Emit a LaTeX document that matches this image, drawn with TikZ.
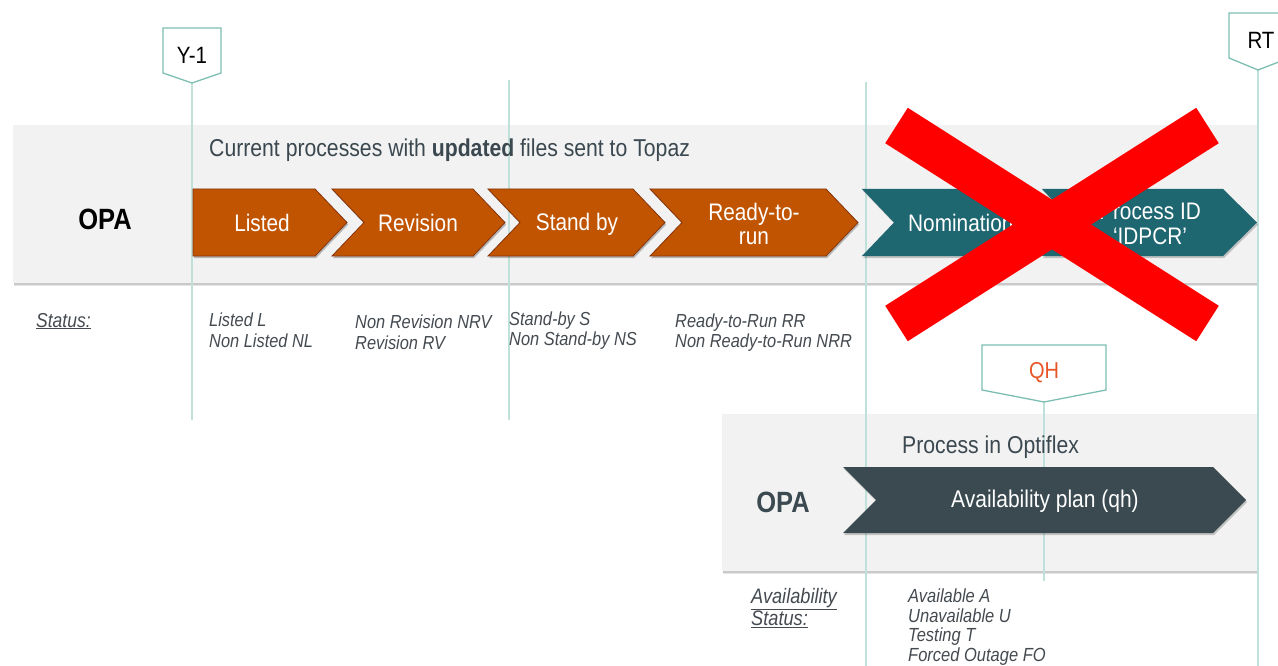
\documentclass[tikz,border=0pt]{standalone}
\usepackage{fontspec}
\setmainfont{Liberation Sans}
\usetikzlibrary{shadows}
\definecolor{panelc}{RGB}{242,242,242}
\definecolor{orangec}{RGB}{192,84,0}
\definecolor{orangeb}{RGB}{135,52,12}
\definecolor{tealc}{RGB}{30,102,112}
\definecolor{darkc}{RGB}{58,74,80}
\definecolor{markc}{RGB}{125,190,178}
\definecolor{vlinec}{RGB}{192,224,218}
\definecolor{txtc}{RGB}{59,72,80}
\definecolor{statc}{RGB}{68,74,80}
\definecolor{qhc}{RGB}{232,86,40}
\definecolor{xred}{RGB}{255,0,0}
\newcommand\vstr[1]{\scalebox{1}[1.15]{#1}}
\begin{document}
\begin{tikzpicture}[x=1pt,y=-1pt,
  panel/.style={fill=panelc,
    drop shadow={shadow xshift=0.5pt, shadow yshift=-1.5pt, opacity=0.12, fill=black},
    drop shadow={shadow xshift=0.8pt, shadow yshift=-3pt, opacity=0.10, fill=black}},
  vline/.style={draw=vlinec, line width=1.2pt},
  marker/.style={draw=markc, fill=white, line width=1.3pt, line join=miter},
  mtext/.style={inner sep=0pt, font=\fontsize{20.5}{24}\selectfont, text=black},
  orchev/.style={fill=orangec, draw=orangeb, line width=0.8pt, line join=miter,
    drop shadow={shadow xshift=1.2pt, shadow yshift=-2pt, opacity=0.25, fill=black}},
  tlchev/.style={fill=tealc, drop shadow={shadow xshift=1.2pt, shadow yshift=-2pt, opacity=0.2, fill=black}},
  dkchev/.style={fill=darkc, drop shadow={shadow xshift=1.2pt, shadow yshift=-2pt, opacity=0.2, fill=black}},
  ctext/.style={inner sep=0pt, align=center, text=white, font=\fontsize{20.8}{24.5}\selectfont},
  opa/.style={inner sep=0pt, font=\fontsize{25.5}{30}\selectfont\bfseries},
  head/.style={inner sep=0pt, anchor=west, text=txtc, font=\fontsize{21.2}{25}\selectfont},
  stat/.style={inner sep=0pt, anchor=west, align=left, text=statc, font=\fontsize{16.4}{20.5}\selectfont\itshape},
  slabel/.style={inner sep=0pt, anchor=west, align=left, text=statc, font=\fontsize{18.2}{22}\selectfont\itshape},
  xbar/.style={draw=xred, line width=42pt, line cap=butt}
]
\useasboundingbox (0,0) rectangle (1278,666);

% panels
\path[panel] (13,125) rectangle (1257,283);
\path[panel] (722,414) rectangle (1257,571);

% marker tips and line ends
\coordinate (y1tip) at (192,83);
\coordinate (y1end) at (192,420);
\coordinate (l2top) at (509,80);
\coordinate (l2end) at (509,420);
\coordinate (l3top) at (866,82);
\coordinate (l3end) at (866,666);
\coordinate (rttip) at (1258,70);
\coordinate (rtend) at (1258,666);
\coordinate (qhtip) at (1044,402);
\coordinate (qhend) at (1044,581);

% vertical timeline lines
\draw[vline] (y1tip) -- (y1end);
\draw[vline] (l2top) -- (l2end);
\draw[vline] (l3top) -- (l3end);
\draw[vline] (rttip) -- (rtend);
\draw[vline] (qhtip) -- (qhend);

% top row chevrons
\path[orchev] (193,189) -- (315,189) -- (347,222.5) -- (315,256) -- (193,256) -- cycle;
\path[orchev] (332,189) -- (473,189) -- (505,222.5) -- (473,256) -- (332,256) -- (364,222.5) -- cycle;
\path[orchev] (488,189) -- (633,189) -- (665,222.5) -- (633,256) -- (488,256) -- (520,222.5) -- cycle;
\path[orchev] (650,189) -- (826,189) -- (858,222.5) -- (826,256) -- (650,256) -- (682,222.5) -- cycle;
\path[tlchev] (862,189) -- (1027,189) -- (1059,222.5) -- (1027,256) -- (862,256) -- (894,222.5) -- cycle;
\path[tlchev] (1042,189) -- (1223,189) -- (1257,222.5) -- (1223,256) -- (1042,256) -- (1074,222.5) -- cycle;

\node[ctext] (listed) at (262,223) {\vstr{Listed}};
\node[ctext] (revision) at (418,223) {\vstr{Revision}};
\node[ctext] (standby) at (577,224) {\vstr{Stand by}};
\node[ctext] (ready) at (754,224) {\vstr{Ready-to-}\\\vstr{run}};
\node[ctext, anchor=west] (nomination) at (908,223) {\vstr{Nomination}};
\node[ctext] (processid) at (1150,224) {\vstr{Process ID}\\\vstr{‘IDPCR’}};

% top panel texts
\node[opa, text=black] (opatop) at (105,219) {\vstr{OPA}};
\node[head] (headtop) at (209,150) {\vstr{Current processes with \textbf{updated} files sent to Topaz}};

% status texts
\node[inner sep=0pt, anchor=base west, text=statc, font=\fontsize{17.5}{21}\selectfont\itshape] (status) at (36,327) {\underline{\vstr{Status:}}};
\node[stat] (st1) at (209,330.5) {\vstr{Listed L}\\\vstr{Non Listed NL}};
\node[stat] (st2) at (355,332.5) {\vstr{Non Revision NRV}\\\vstr{Revision RV}};
\node[stat] (st3) at (509,330.5) {\vstr{Stand-by S}\\\vstr{Non Stand-by NS}};
\node[stat] (st4) at (675,332.5) {\vstr{Ready-to-Run RR}\\\vstr{Non Ready-to-Run NRR}};

% red cross
\coordinate (xa) at (896.5,125.5);
\coordinate (xb) at (1207.5,323.5);
\coordinate (xc) at (1207.5,125.5);
\coordinate (xd) at (896.5,323.5);
\draw[xbar] (xa) -- (xb);
\draw[xbar] (xc) -- (xd);

% markers
\draw[marker] (163,28) -- (221,28) -- (221,73) -- (y1tip) -- (163,73) -- cycle;
\node[mtext] (y1) at (192,55.5) {\vstr{Y-1}};
\draw[marker] (1229,13) -- (1289,13) -- (1289,58) -- (rttip) -- (1229,58) -- cycle;
\node[mtext] (rt) at (1261,40) {\vstr{RT}};
\draw[marker] (982,345) -- (1106,345) -- (1106,390) -- (qhtip) -- (982,390) -- cycle;
\node[mtext, text=qhc, font=\fontsize{20}{24}\selectfont] (qh) at (1044,372.5) {\vstr{QH}};

% bottom panel
\node[head] (headbot) at (902,447) {\vstr{Process in Optiflex}};
\node[opa, text=darkc] (opabot) at (783,502) {\vstr{OPA}};
\path[dkchev] (843,467) -- (1213,467) -- (1246,500) -- (1213,533) -- (843,533) -- (876,500) -- cycle;
\node[ctext, font=\fontsize{21}{25}\selectfont] (avail) at (1045,501) {\vstr{Availability plan (qh)}};

% availability status
\node[slabel] (astat) at (751,608) {\underline{\vstr{Availability}}\\\underline{\vstr{Status:}}};
\node[stat, font=\fontsize{16.5}{19.8}\selectfont\itshape] (alist) at (908,627) {\vstr{Available A}\\\vstr{Unavailable U}\\\vstr{Testing T}\\\vstr{Forced Outage FO}};
\end{tikzpicture}
\end{document}
